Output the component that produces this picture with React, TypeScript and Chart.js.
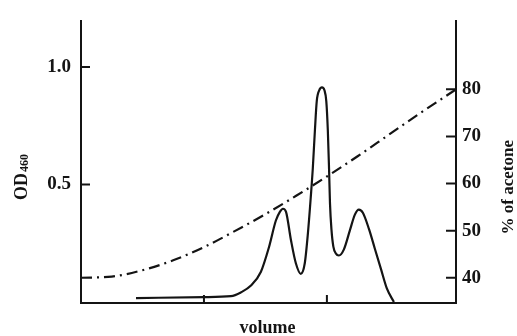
import React, { useEffect, useRef } from 'react';
import { Chart, registerables } from 'chart.js';

Chart.register(...registerables);

// ---- data ----
const volumeTicks = [40, 80];
const odTicks = [0.5, 1.0];
const acetoneTicks = [40, 50, 60, 70, 80];

const odVolume = [17.9, 40.0, 48.8, 52.0, 55.3, 58.5, 61.1, 63.4, 64.7, 65.7, 66.7, 68.3, 69.9, 71.5, 72.8, 73.8, 74.8, 75.4, 76.1, 76.7, 77.5, 78.4, 79.2, 79.8, 80.3, 80.7, 81.0, 81.5, 82.1, 82.9, 83.9, 85.5, 87.5, 89.1, 90.4, 91.7, 93.7, 95.6, 97.6, 99.5, 101.8];
const odValues = [0.017, 0.021, 0.025, 0.041, 0.070, 0.128, 0.231, 0.347, 0.384, 0.397, 0.384, 0.264, 0.165, 0.120, 0.165, 0.289, 0.455, 0.566, 0.731, 0.855, 0.901, 0.913, 0.901, 0.855, 0.731, 0.566, 0.421, 0.306, 0.236, 0.207, 0.198, 0.223, 0.306, 0.372, 0.393, 0.380, 0.310, 0.227, 0.140, 0.058, 0.0];

const acetoneVolume = [0, 10, 20, 30, 40, 50, 60, 70, 80, 90, 100, 110, 122];
const acetoneValues = [40.0, 40.25, 41.6, 43.7, 46.5, 49.9, 53.5, 57.4, 61.5, 65.8, 70.3, 74.8, 80.0];

const xTitle = 'volume';
const yTitleMain = 'OD';
const yTitleSub = '460';
const y1Title = '% of acetone';

const INK = '#141414';
const FONT = '"Liberation Serif", "DejaVu Serif", serif';

const decor = {
  id: 'decor',
  afterDraw(chart: any) {
    const ctx = chart.ctx as CanvasRenderingContext2D;
    const area = chart.chartArea;
    const sx = chart.scales.x;
    const sy = chart.scales.y;
    const sy1 = chart.scales.y1;
    ctx.save();
    ctx.strokeStyle = INK;
    ctx.lineWidth = 2;
    ctx.beginPath();
    sy.ticks.forEach((t: any) => {
      const p = sy.getPixelForValue(t.value);
      ctx.moveTo(area.left, p);
      ctx.lineTo(area.left + 9, p);
    });
    sy1.ticks.forEach((t: any) => {
      const p = sy1.getPixelForValue(t.value);
      ctx.moveTo(area.right, p);
      ctx.lineTo(area.right - 10, p);
    });
    sx.ticks.forEach((t: any) => {
      const p = sx.getPixelForValue(t.value);
      ctx.moveTo(p, area.bottom);
      ctx.lineTo(p, area.bottom - 8);
    });
    ctx.stroke();

    ctx.fillStyle = INK;
    // x title
    ctx.font = `bold 18px ${FONT}`;
    ctx.textAlign = 'center';
    ctx.textBaseline = 'alphabetic';
    ctx.fillText(xTitle, (area.left + area.right) / 2 - 1, 333);

    // left title OD460 (rotated)
    ctx.save();
    ctx.translate(27, 200);
    ctx.rotate(-Math.PI / 2);
    ctx.textAlign = 'left';
    ctx.font = `bold 18px ${FONT}`;
    ctx.fillText(yTitleMain, 0, 0);
    const w = ctx.measureText(yTitleMain).width;
    ctx.font = `bold 12px ${FONT}`;
    ctx.fillText(yTitleSub, w + 1, 1);
    ctx.restore();

    // right title
    ctx.save();
    ctx.translate(513, (area.top + area.bottom) / 2 + 25);
    ctx.rotate(-Math.PI / 2);
    ctx.textAlign = 'center';
    ctx.font = `bold 17px ${FONT}`;
    ctx.fillText(y1Title, 0, 0);
    ctx.restore();

    ctx.restore();
  },
};

export default function App() {
  const ref = useRef<HTMLCanvasElement | null>(null);
  useEffect(() => {
    if (!ref.current) return;
    const chart = new Chart(ref.current, {
      type: 'line',
      data: {
        datasets: [
          {
            label: 'OD460',
            data: odVolume.map((v, i) => ({ x: v, y: odValues[i] })),
            borderColor: INK,
            borderWidth: 2.2,
            pointRadius: 0,
            cubicInterpolationMode: 'monotone',
            yAxisID: 'y',
            fill: false,
          },
          {
            label: '% of acetone',
            data: acetoneVolume.map((v, i) => ({ x: v, y: acetoneValues[i] })),
            borderColor: INK,
            borderWidth: 2.2,
            borderDash: [11, 5, 2, 5],
            pointRadius: 0,
            cubicInterpolationMode: 'monotone',
            yAxisID: 'y1',
            fill: false,
          },
        ],
      },
      options: {
        responsive: false,
        animation: false,
        layout: { padding: { top: 13, left: 0, right: 0, bottom: 0 } },
        plugins: { legend: { display: false }, tooltip: { enabled: false } },
        scales: {
          x: {
            type: 'linear',
            min: 0,
            max: 122,
            grid: { display: false, drawTicks: false },
            border: { display: true, color: INK, width: 2 },
            ticks: { display: false },
            afterBuildTicks: (s: any) => {
              s.ticks = volumeTicks.map((v) => ({ value: v }));
            },
            afterFit: (s: any) => {
              s.height = 33;
            },
          },
          y: {
            type: 'linear',
            position: 'left',
            min: -0.004,
            max: 1.194,
            grid: { display: false, drawTicks: false },
            border: { display: true, color: INK, width: 2 },
            ticks: {
              padding: 10,
              color: INK,
              font: { family: FONT, size: 19, weight: 'bold' },
              callback: (v: any) => Number(v).toFixed(1),
            },
            afterBuildTicks: (s: any) => {
              s.ticks = odTicks.map((v) => ({ value: v }));
            },
            afterFit: (s: any) => {
              s.width = 81;
            },
          },
          y1: {
            type: 'linear',
            position: 'right',
            min: 34.64,
            max: 94.43,
            grid: { display: false, drawTicks: false },
            border: { display: true, color: INK, width: 2 },
            ticks: {
              padding: 6,
              color: INK,
              font: { family: FONT, size: 19, weight: 'bold' },
              callback: (v: any) => String(v),
            },
            afterBuildTicks: (s: any) => {
              s.ticks = acetoneTicks.map((v) => ({ value: v }));
            },
            afterFit: (s: any) => {
              s.width = 61;
            },
          },
        },
      },
      plugins: [decor],
    });
    return () => chart.destroy();
  }, []);

  return (
    <div style={{ position: 'fixed', left: 0, top: 0, width: 517, height: 336, background: '#fff' }}>
      <canvas ref={ref} width={517} height={336} style={{ display: 'block' }} />
    </div>
  );
}
